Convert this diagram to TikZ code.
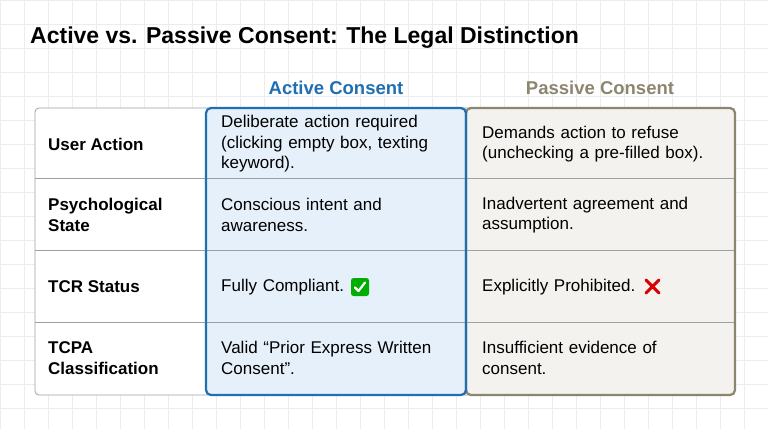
\documentclass[tikz,border=0pt]{standalone}
\usepackage{fontspec}
\setmainfont{Liberation Sans}
\definecolor{blu}{HTML}{1F6FB2}
\definecolor{blufill}{HTML}{E6F0FA}
\definecolor{brn}{HTML}{8C8670}
\definecolor{gryfill}{HTML}{F3F2EF}
\definecolor{gridc}{HTML}{ECECEC}
\definecolor{linec}{HTML}{9AA0A6}
\begin{document}
\begin{tikzpicture}[x=1pt,y=-1pt,
 cell/.style={anchor=west,align=left,font=\fontsize{17}{20.5}\selectfont,text width=250pt,inner sep=0pt},
 lab/.style={anchor=west,align=left,font=\bfseries\fontsize{17}{21}\selectfont,inner sep=0pt},
 head/.style={font=\bfseries\fontsize{18.5}{22}\selectfont}]
\fill[white] (0,0) rectangle (768,429);
\useasboundingbox (0,0) rectangle (768,429);
\foreach \x in {0,24,...,768} \draw[gridc,line width=0.6pt] (\x,0) -- (\x,429);
\foreach \y in {0,24,...,429} \draw[gridc,line width=0.6pt] (0,\y) -- (768,\y);
\node[anchor=west,font=\bfseries\fontsize{23}{26}\selectfont,inner sep=0pt] (title) at (30,38) {Active vs. Passive Consent: The Legal Distinction};
% table frame
\draw[linec,rounded corners=4pt,line width=0.8pt,fill=white] (35,108) rectangle (735,395);
\fill[blufill] (206,108) rectangle (466,395);
\fill[gryfill] (466,108) rectangle (735,395);
\foreach \y in {178,250,322} \draw[linec,line width=0.8pt] (35,\y) -- (735,\y);
\draw[brn,line width=2.2pt,rounded corners=5pt] (466,108) rectangle (735,395);
\draw[blu,line width=2.2pt,rounded corners=5pt] (206,108) rectangle (466,395);
\node[head,text=blu] (ha) at (336,88) {Active Consent};
\node[head,text=brn] (hp) at (600,88) {Passive Consent};
% labels
\node[lab] (l1) at (48,144) {User Action};
\node[lab] (l2) at (48,215) {Psychological\\State};
\node[lab] (l3) at (48,287) {TCR Status};
\node[lab] (l4) at (48,358) {TCPA\\Classification};
% active
\node[cell] (a1) at (221,144) {Deliberate action required\\(clicking empty box, texting\\keyword).};
\node[cell] (a2) at (221,215) {Conscious intent and\\awareness.};
\node[cell] (a3) at (221,287) {Fully Compliant.};
\node[cell] (a4) at (221,358) {Valid “Prior Express Written\\Consent”.};
% passive
\node[cell] (p1) at (482,144) {Demands action to refuse\\(unchecking a pre-filled box).};
\node[cell] (p2) at (482,215) {Inadvertent agreement and\\assumption.};
\node[cell] (p3) at (482,287) {Explicitly Prohibited.};
\node[cell] (p4) at (482,358) {Insufficient evidence of\\consent.};
% check emoji
\fill[green!60!black!80!green,rounded corners=2.5pt] (351,278) rectangle (369,296);
\draw[white,line width=2.2pt,line cap=round,line join=round] (355,287.5) -- (358.5,291) -- (365,282.5);
% cross emoji
\draw[red!85!black,line width=3pt,line cap=round] (646,280) -- (659,293) (659,280) -- (646,293);
\end{tikzpicture}
\end{document}
